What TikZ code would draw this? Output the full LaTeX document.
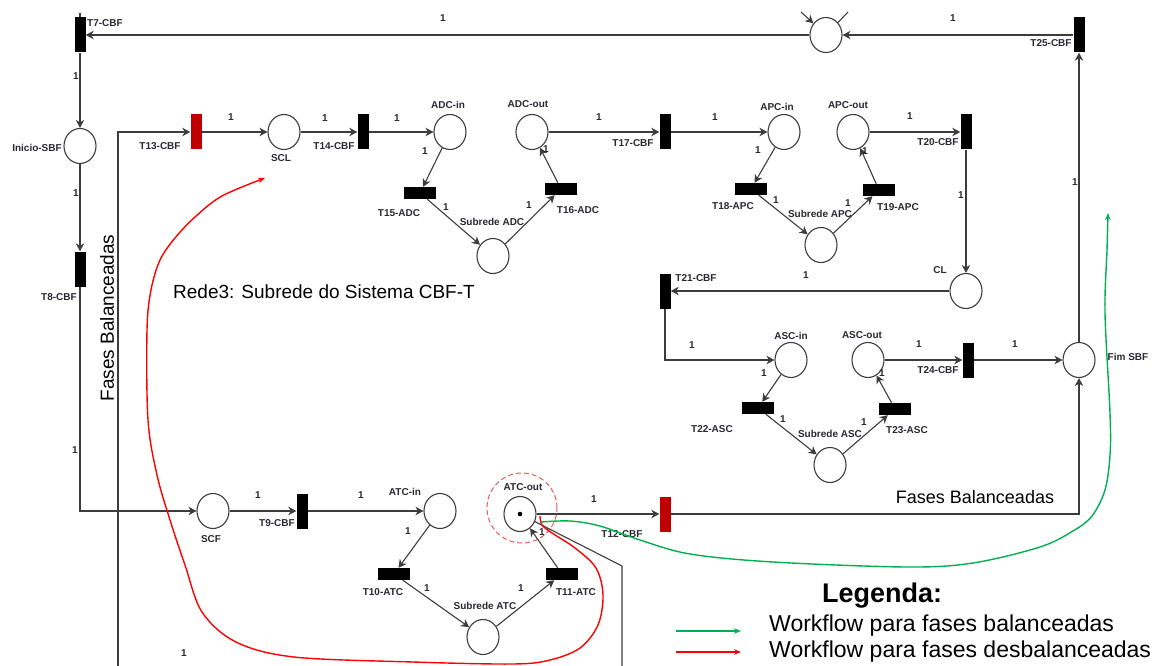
\documentclass[tikz,border=0pt]{standalone}
\usepackage{fontspec}
\setmainfont{Liberation Sans}
\usetikzlibrary{arrows.meta,positioning,shapes.geometric}
\definecolor{pnline}{RGB}{60,60,60}
\definecolor{pntext}{RGB}{40,40,50}
\definecolor{pnred}{RGB}{192,0,0}
\definecolor{flowred}{RGB}{255,0,0}
\definecolor{flowgreen}{RGB}{0,176,80}
\definecolor{hlred}{RGB}{235,90,90}

\begin{document}
\begin{tikzpicture}[
  x=1pt,y=-1pt,
  every node/.style={font=\fontsize{10}{12}\selectfont\bfseries,text=pntext},
  placenode/.style={ellipse,draw=pnline,line width=1.1pt,minimum width=32pt,minimum height=35pt,inner sep=0pt},
  vbar/.style={fill=black,minimum width=11pt,minimum height=35pt,inner sep=0pt},
  hbar/.style={fill=black,minimum width=32pt,minimum height=12pt,inner sep=0pt},
  redbar/.style={vbar,fill=pnred},
  pnarc/.style={draw=pnline,line width=1.1pt,-{Stealth[length=8pt,width=8.5pt,inset=2.5pt]}},
  plainarc/.style={draw=pnline,line width=1.1pt},
  wt/.style={inner sep=0pt},
  lbl/.style={inner sep=0pt},
  bigtxt/.style={font=\fontsize{19}{22}\selectfont,text=black},
  flow/.style={line width=1.4pt,-{Stealth[length=7pt,width=5.5pt]}},
]
  \useasboundingbox (0,0) rectangle (1162,666);

  % highlight of the marked place
  \node[circle,draw=hlred,dashed,dash pattern=on 5pt off 3pt,line width=1pt,
        minimum size=70pt,inner sep=0pt] (hl) at (522,508) {};

  % Places
  \node[placenode] (top) at (826,35) {};
  \node[placenode] (inicio) at (80,146) {};
  \node[placenode] (scl) at (284,132) {};
  \node[placenode] (adcin) at (450,132) {};
  \node[placenode] (adcout) at (532,132) {};
  \node[placenode] (subadc) at (493,256) {};
  \node[placenode] (apcin) at (784,132) {};
  \node[placenode] (apcout) at (853,132) {};
  \node[placenode] (subapc) at (821,245) {};
  \node[placenode] (cl) at (966,291) {};
  \node[placenode] (ascin) at (791,360) {};
  \node[placenode] (ascout) at (868,360) {};
  \node[placenode] (subasc) at (830,465) {};
  \node[placenode] (fim) at (1079,360) {};
  \node[placenode] (scf) at (213,511) {};
  \node[placenode] (atcin) at (440,511) {};
  \node[placenode] (atcout) at (520,514) {};
  \node[placenode] (subatc) at (483,637) {};
  \fill[black] (atcout.center) circle (2.3pt);

  % Transitions
  \node[vbar] (t7) at (80,35) {};
  \node[vbar] (t25) at (1079,35) {};
  \node[vbar] (t8) at (80,269) {};
  \node[redbar] (t13) at (196,132) {};
  \node[vbar] (t14) at (363,132) {};
  \node[hbar] (t15) at (420,193) {};
  \node[hbar] (t16) at (561,189) {};
  \node[vbar] (t17) at (665,132) {};
  \node[hbar] (t18) at (751,189) {};
  \node[hbar] (t19) at (879,190) {};
  \node[vbar] (t20) at (966,132) {};
  \node[vbar] (t21) at (665,291) {};
  \node[hbar] (t22) at (758,408) {};
  \node[hbar] (t23) at (895,409) {};
  \node[vbar] (t24) at (968,360) {};
  \node[vbar] (t9) at (302,511) {};
  \node[hbar] (t10) at (394,574) {};
  \node[hbar] (t11) at (562,574) {};
  \node[redbar] (t12) at (665,514) {};

  % loose ends
  \coordinate (topin) at (801,12);
  \coordinate (topout) at (848,12);
  \coordinate (t7up) at (80,13);
  \coordinate (lbot) at (118,666);
  \coordinate (atcbend) at (622,566);
  \coordinate (atcbot) at (622,666);

  % Arcs
  \draw[pnarc] (topin) -- (top);
  \draw[plainarc] (top) -- (topout);
  \draw[plainarc] (t7.north) -- (t7up);
  \draw[pnarc] (t25) -- (top);
  \draw[pnarc] (top) -- (t7);
  \draw[pnarc] (t7) -- (inicio);
  \draw[pnarc] (inicio) -- (t8);
  \draw[pnarc] (t8.south) |- (scf.west);
  \draw[pnarc] (scf) -- (t9);
  \draw[pnarc] (t9) -- (atcin);
  \draw[pnarc] (atcin) -- (t10);
  \draw[pnarc] (t10) -- (subatc);
  \draw[pnarc] (subatc) -- (t11);
  \draw[pnarc] (t11) -- (atcout);
  \draw[pnarc] (atcout) -- (t12);
  \draw[plainarc] (atcout) -- (atcbend) -- (atcbot);
  \draw[pnarc] (t12.east) -| (fim.south);
  \draw[pnarc] (fim) -- (t25);
  \draw[pnarc] (lbot) |- (t13.west);
  \draw[pnarc] (t13) -- (scl);
  \draw[pnarc] (scl) -- (t14);
  \draw[pnarc] (t14) -- (adcin);
  \draw[pnarc] (adcin) -- (t15);
  \draw[pnarc] (t15) -- (subadc);
  \draw[pnarc] (subadc) -- (t16);
  \draw[pnarc] (t16) -- (adcout);
  \draw[pnarc] (adcout) -- (t17);
  \draw[pnarc] (t17) -- (apcin);
  \draw[pnarc] (apcin) -- (t18);
  \draw[pnarc] (t18) -- (subapc);
  \draw[pnarc] (subapc) -- (t19);
  \draw[pnarc] (t19) -- (apcout);
  \draw[pnarc] (apcout) -- (t20);
  \draw[pnarc] (t20) -- (cl);
  \draw[pnarc] (cl) -- (t21);
  \draw[pnarc] (t21.south) |- (ascin.west);
  \draw[pnarc] (ascin) -- (t22);
  \draw[pnarc] (t22) -- (subasc);
  \draw[pnarc] (subasc) -- (t23);
  \draw[pnarc] (t23) -- (ascout);
  \draw[pnarc] (ascout) -- (t24);
  \draw[pnarc] (t24) -- (fim);

  % Names of places and transitions
  \node[lbl] (lt7) at (105,23) {T7-CBF};
  \node[lbl] (lt25) at (1051,43) {T25-CBF};
  \node[lbl] (linicio) at (37,148) {Inicio-SBF};
  \node[lbl] (lt8) at (59,297) {T8-CBF};
  \node[lbl] (lt13) at (160,146) {T13-CBF};
  \node[lbl] (lscl) at (281,158) {SCL};
  \node[lbl] (lt14) at (334,146) {T14-CBF};
  \node[lbl] (ladcin) at (448,105) {ADC-in};
  \node[lbl] (lt15) at (399,213) {T15-ADC};
  \node[lbl] (lsubadc) at (492,222) {Subrede ADC};
  \node[lbl] (lt16) at (578,210) {T16-ADC};
  \node[lbl] (ladcout) at (528,104) {ADC-out};
  \node[lbl] (lt17) at (633,143) {T17-CBF};
  \node[lbl] (lapcin) at (777,107) {APC-in};
  \node[lbl] (lt18) at (733,206) {T18-APC};
  \node[lbl] (lsubapc) at (820,214) {Subrede APC};
  \node[lbl] (lt19) at (898,207) {T19-APC};
  \node[lbl] (lapcout) at (848,105) {APC-out};
  \node[lbl] (lt20) at (938,142) {T20-CBF};
  \node[lbl] (lcl) at (940,270) {CL};
  \node[lbl] (lt21) at (696,278) {T21-CBF};
  \node[lbl] (lascin) at (791,336) {ASC-in};
  \node[lbl] (lt22) at (712,429) {T22-ASC};
  \node[lbl] (lsubasc) at (830,434) {Subrede ASC};
  \node[lbl] (lt23) at (907,430) {T23-ASC};
  \node[lbl] (lascout) at (862,335) {ASC-out};
  \node[lbl] (lt24) at (938,370) {T24-CBF};
  \node[lbl] (lfim) at (1128,357) {Fim SBF};
  \node[lbl] (lscf) at (211,539) {SCF};
  \node[lbl] (lt9) at (277,523) {T9-CBF};
  \node[lbl] (latcin) at (405,492) {ATC-in};
  \node[lbl] (lt10) at (383,592) {T10-ATC};
  \node[lbl] (lsubatc) at (485,606) {Subrede ATC};
  \node[lbl] (lt11) at (576,592) {T11-ATC};
  \node[lbl] (latcout) at (523,487) {ATC-out};
  \node[lbl] (lt12) at (622,534) {T12-CBF};

  % Arc weights
  \node[wt] (w1) at (443,18) {1};
  \node[wt] (w2) at (953,18) {1};
  \node[wt] (w3) at (1075,182) {1};
  \node[wt] (w4) at (76,76) {1};
  \node[wt] (w5) at (76,193) {1};
  \node[wt] (w6) at (75,450) {1};
  \node[wt] (w7) at (231,117) {1};
  \node[wt] (w8) at (325,118) {1};
  \node[wt] (w9) at (397,118) {1};
  \node[wt] (w10) at (425,151) {1};
  \node[wt] (w11) at (446,207) {1};
  \node[wt] (w12) at (529,205) {1};
  \node[wt] (w13) at (546,149) {1};
  \node[wt] (w14) at (599,117) {1};
  \node[wt] (w15) at (715,117) {1};
  \node[wt] (w16) at (758,150) {1};
  \node[wt] (w17) at (776,200) {1};
  \node[wt] (w18) at (848,203) {1};
  \node[wt] (w19) at (865,151) {1};
  \node[wt] (w20) at (910,116) {1};
  \node[wt] (w21) at (961,195) {1};
  \node[wt] (w22) at (806,275) {1};
  \node[wt] (w23) at (692,345) {1};
  \node[wt] (w24) at (764,373) {1};
  \node[wt] (w25) at (783,419) {1};
  \node[wt] (w26) at (864,422) {1};
  \node[wt] (w27) at (882,373) {1};
  \node[wt] (w28) at (919,344) {1};
  \node[wt] (w29) at (1015,344) {1};
  \node[wt] (w30) at (258,495) {1};
  \node[wt] (w31) at (361,495) {1};
  \node[wt] (w32) at (408,531) {1};
  \node[wt] (w33) at (427,588) {1};
  \node[wt] (w34) at (521,588) {1};
  \node[wt] (w35) at (542,532) {1};
  \node[wt] (w36) at (594,499) {1};
  \node[wt] (w37) at (184,653) {1};

  % Titles
  \node[bigtxt] (title) at (324,292) {Rede3: Subrede do Sistema CBF-T};
  \node[bigtxt,rotate=90] (fbv) at (107,318) {Fases Balanceadas};
  \node[bigtxt,font=\fontsize{18}{22}\selectfont] (fbh) at (975,497) {Fases Balanceadas};

  % Workflows
  \coordinate (redstart) at (540,516);
  \coordinate (redend) at (265,178);
  \draw[flow,flowred] plot[smooth,tension=0.55] coordinates {(redstart) (542,525) (552,533)
    (575,548) (596,568) (603,595) (598,625) (580,648) (550,660) (513,664) (413,662)
    (294,657) (236,642) (202,612) (185,565) (170,520) (157,475) (148,420) (147,330)
    (151,290) (160,260) (175,238) (195,217) (222,196) (redend)};
  \coordinate (greenstart) at (541,522);
  \coordinate (greenend) at (1108,213);
  \draw[flow,flowgreen] plot[smooth,tension=0.55] coordinates {(greenstart) (570,521)
    (600,526) (640,540) (690,554) (773,562) (907,567) (973,563) (1040,547) (1073,531)
    (1092,516) (1105,490) (1110,455) (1110,413) (1105,313) (1107,250) (greenend)};

  % Legend
  \node[bigtxt,font=\fontsize{27}{30}\selectfont\bfseries] (leg) at (882,596) {Legenda:};
  \coordinate (lg1a) at (676,631);
  \coordinate (lg1b) at (741,631);
  \coordinate (lg2a) at (676,652);
  \coordinate (lg2b) at (741,652);
  \draw[flow,flowgreen,line width=1.2pt] (lg1a) -- (lg1b);
  \draw[flow,flowred,line width=1.2pt] (lg2a) -- (lg2b);
  \node[bigtxt,font=\fontsize{23}{26}\selectfont,anchor=west,inner sep=0pt] (lgt1) at (769,626) {Workflow para fases balanceadas};
  \node[bigtxt,font=\fontsize{23}{26}\selectfont,anchor=west,inner sep=0pt] (lgt2) at (769,652) {Workflow para fases desbalanceadas};
\end{tikzpicture}
\end{document}
